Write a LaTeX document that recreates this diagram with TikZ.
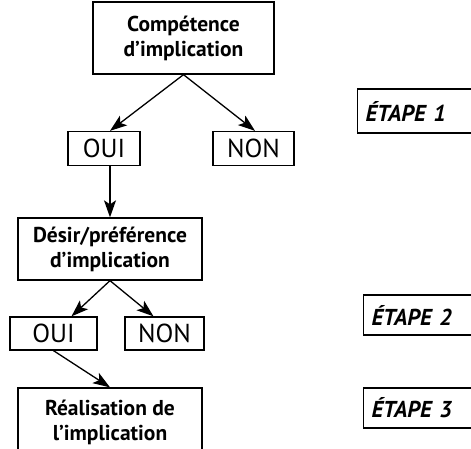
\documentclass[tikz,border=0pt]{standalone}
\usepackage{fontspec}
\setmainfont{PT Sans}
\usetikzlibrary{arrows.meta}
\begin{document}
\begin{tikzpicture}[x=1pt,y=-1pt,
  box/.style={draw, line width=1.3pt, align=center, inner sep=0pt, font=\bfseries\fontsize{21.5}{25}\selectfont},
  yn/.style={draw, line width=1.3pt, inner sep=0pt, minimum height=34pt, font=\fontsize{26}{28}\selectfont},
  etape/.style={draw, line width=1.3pt, anchor=west, inner xsep=8pt, text width=104pt, align=left, font=\bfseries\itshape\fontsize{23}{25}\selectfont},
  arr/.style={line width=1.3pt, -{Stealth[length=17pt,width=12pt,inset=4pt]}}]
\clip (0,0) rectangle (471,449);
\node[box, minimum width=181pt, minimum height=72pt] (comp) at (183.5,38){Compétence\\d’implication};
\node[yn, minimum width=72pt] (oui1) at (104,148.5){OUI};
\node[yn, minimum width=81pt] (non1) at (253.5,148.5){NON};
\node[etape, minimum height=44pt] (et1) at (357,111){ÉTAPE 1};
\node[box, minimum width=184pt, minimum height=62pt] (desir) at (110,249){Désir/préférence\\d’implication};
\node[yn, minimum width=87pt, minimum height=33pt] (oui2) at (53.5,333.5){OUI};
\node[yn, minimum width=79pt, minimum height=33pt] (non2) at (164.5,333.5){NON};
\node[etape, minimum height=40pt] (et2) at (363,315){ÉTAPE 2};
\node[box, minimum width=184pt, minimum height=68pt] (real) at (110,422){Réalisation de\\l’implication};
\node[etape, minimum height=40pt] (et3) at (363,408){ÉTAPE 3};
\draw[arr] (comp.south) -- ([xshift=6pt]oui1.north);
\draw[arr] (comp.south) -- ([xshift=1.5pt]non1.north);
\draw[arr] (desir.north |- oui1.south) -- (desir.north);
\draw[arr] (desir.south) -- ([xshift=18pt]oui2.north);
\draw[arr] (desir.south) -- ([xshift=-11pt]non2.north);
\draw[arr] (oui2.south) -- (real.north);
\end{tikzpicture}
\end{document}
